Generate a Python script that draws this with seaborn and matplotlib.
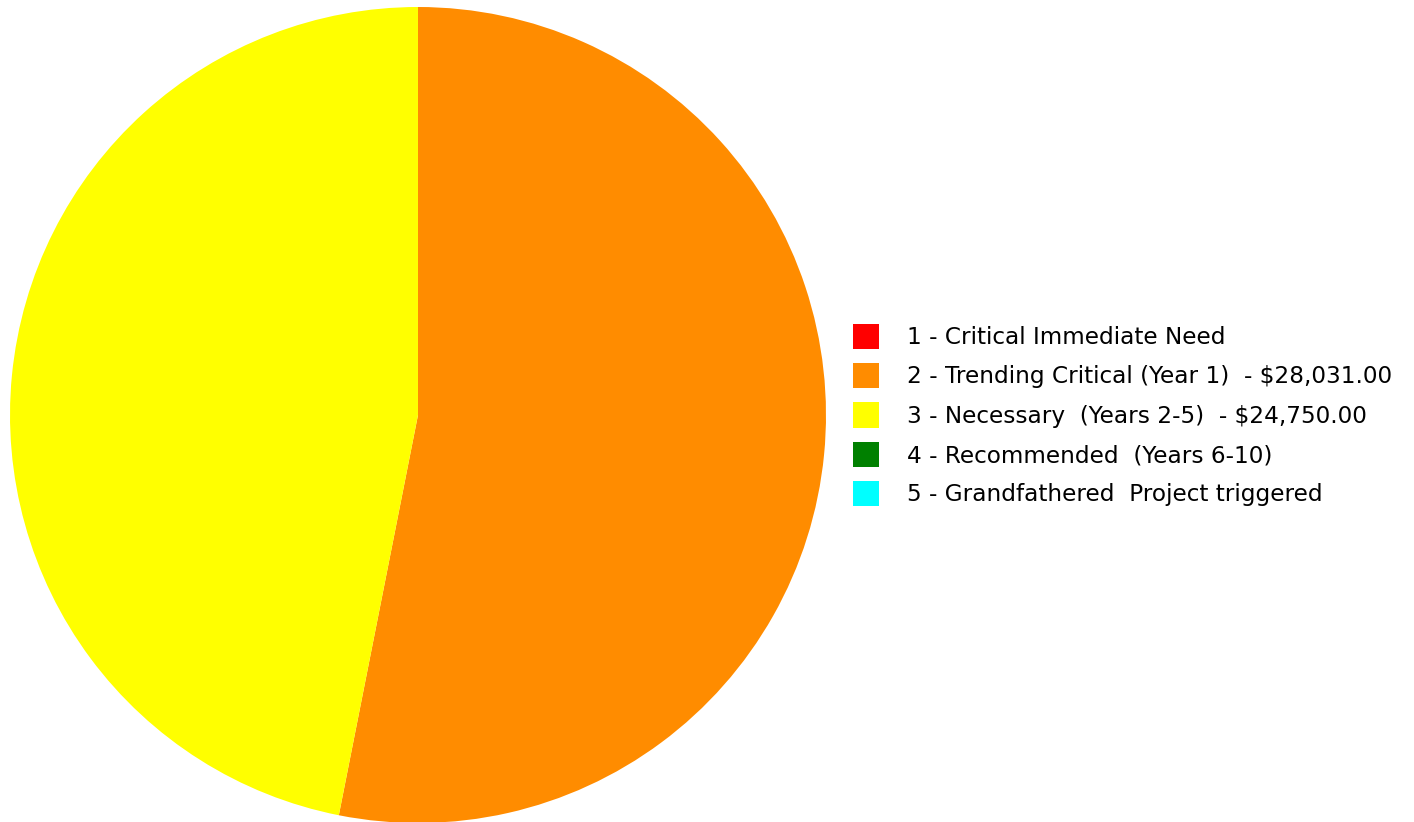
import matplotlib
matplotlib.use("Agg")
import matplotlib.pyplot as plt
from matplotlib.patches import Rectangle
import seaborn as sns

categories = [
    "1 - Critical Immediate Need",
    "2 - Trending Critical (Year 1)  - $28,031.00",
    "3 - Necessary  (Years 2-5)  - $24,750.00",
    "4 - Recommended  (Years 6-10)",
    "5 - Grandfathered  Project triggered",
]
values = [0, 28031.00, 24750.00, 0, 0]
colors = sns.color_palette(["#FF0000", "#FF8C00", "#FFFF00", "#008000", "#00FFFF"])

sns.set_theme(style="white")
plt.rcParams["font.family"] = ["DejaVu Sans"]

W, H = 1414, 822
fig = plt.figure(figsize=(W / 100, H / 100), dpi=100)
fig.patch.set_facecolor("white")

cx, cy, r = 418, 415, 408
ax = fig.add_axes([(cx - r) / W, (H - cy - r) / H, 2 * r / W, 2 * r / H])
ax.set_aspect("equal")

nz = [(v, c) for v, c in zip(values, colors) if v > 0]
ax.pie([v for v, _ in nz], colors=[c for _, c in nz], startangle=90,
       counterclock=False, radius=1.0,
       wedgeprops=dict(linewidth=0, antialiased=True))
ax.set_xlim(-1, 1)
ax.set_ylim(-1, 1)
ax.axis("off")

handles = [Rectangle((0, 0), 1, 1, facecolor=c, edgecolor="none") for c in colors]
fs = 16.7
px = fs * 100 / 72
leg = fig.legend(handles, categories, loc="center left",
                 bbox_to_anchor=(853 / W, (H - 415) / H),
                 frameon=False, fontsize=fs, borderpad=0, borderaxespad=0,
                 handlelength=26 / px, handleheight=1.3,
                 handletextpad=28 / px, labelspacing=0.6)
for t in leg.get_texts():
    t.set_color("black")

fig.savefig("out.png", dpi=100, facecolor="white")
